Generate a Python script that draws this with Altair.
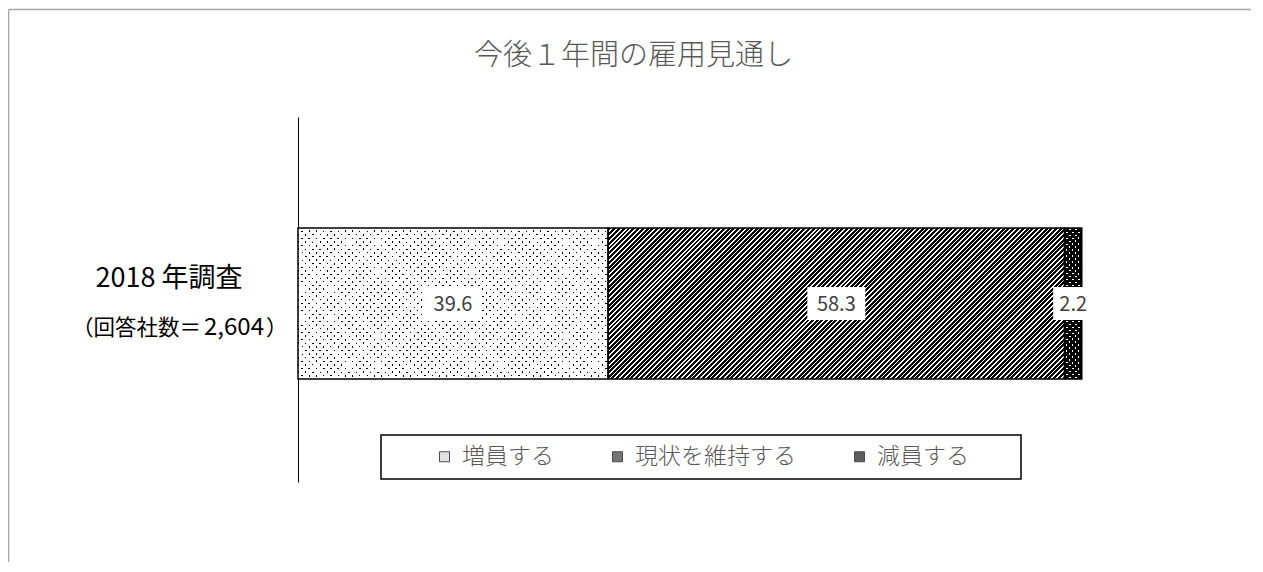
import altair as alt
import pandas as pd

# ---- data ----
categories = ['増員する', '現状を維持する', '減員する']
values = [39.6, 58.3, 2.2]
order = [1, 2, 3]
survey = ['2018', '2018', '2018']
survey_label = ['2018 年調査']
respondents = ['2,604']
title_text = '今後１年間の雇用見通し'

# ---- style ----
FONT = 'Noto Sans CJK JP'
W, H = 783, 365          # plot area
BAR = 151                # bar thickness (px)
PPU = W / 100.0          # px per percentage point
legend_colors = ['#d4d4d4', '#3c3c3c', '#1a1a1a']
CLEAR = 'rgba(255,255,255,0)'

df = pd.DataFrame({'survey': survey, 'category': categories,
                   'value': values, 'order': order})
lab_df = pd.DataFrame({'survey': survey[:1], 'name': survey_label, 'n': respondents})


def stripes(w, h, period, on_set, on, off, rising=True, k=0, n=1, N=255):
    """Diagonal stripe fill (part k of n along the diagonal) as a linear gradient."""
    def col(i):
        return on if (i % period) in on_set else off
    cur = col(0)
    stops = [(0.0, CLEAR), (0.0, cur)]
    for i in range(1, N + 1):
        c = col(i)
        if c != cur:
            b = round((i - 0.5) / N, 6)
            stops += [(b, cur), (b, c)]
            cur = c
    stops += [(1.0, cur), (1.0, CLEAR)]
    r = h / w
    s = (1 + r) / (1 + r * r)
    if rising:
        px, py, dx, dy = 0, 0, s, s * r
    else:
        px, py, dx, dy = 0, 1, s, -s * r
    f0, f1 = k / n, (k + 1) / n
    return alt.LinearGradient(
        gradient='linear',
        stops=[alt.GradientStop(color=cl, offset=o) for o, cl in stops],
        x1=px + f0 * dx, y1=py + f0 * dy, x2=px + f1 * dx, y2=py + f1 * dy)


w1, w2, w3 = (v * PPU for v in values)
# segment 1: black dots on white
g1b = stripes(w1, BAR, 4, {0}, 'black', CLEAR, rising=True)
g1c = stripes(w1, BAR, 4, {0}, CLEAR, 'white', rising=False)
# segment 2: wide upward diagonal hatch, built in 4 parts for finer stripes
g2 = [stripes(w2, BAR, 8, {2, 3, 4, 5, 6}, 'black', CLEAR, rising=True, k=k, n=4)
      for k in range(4)]
# segment 3: white dots on black
g3b = stripes(w3, BAR, 9, {0, 1, 2}, 'white', CLEAR, rising=True)
g3c = stripes(w3, BAR, 9, {0, 1, 2}, CLEAR, 'black', rising=False)

xscale = alt.Scale(domain=[0, 100], nice=False, zero=True)
yenc = alt.Y('survey:N', axis=alt.Axis(labels=False, ticks=False, title=None,
                                        domainColor='black', domainWidth=1,
                                        grid=False))

base = alt.Chart(df).transform_stack(
    stack='value', as_=['x0', 'x1'], groupby=['survey'],
    sort=[alt.SortField('order')])


def seg(cat, **mk):
    return base.transform_filter(alt.datum.category == cat).mark_bar(
        size=BAR, yOffset=4, **mk).encode(
        x=alt.X('x0:Q', scale=xscale, axis=None), x2='x1:Q', y=yenc)


one = alt.Chart(lab_df)
frame_top = one.mark_rule(color='#a6a6a6', strokeWidth=1.5).encode(
    x=alt.value(-289.5), x2=alt.value(1400), y=alt.value(-107.5))
frame_left = one.mark_rule(color='#a6a6a6', strokeWidth=1.5).encode(
    x=alt.value(-289.5), y=alt.value(-107.5), y2=alt.value(1000))

layers = [
    frame_top, frame_left,
    seg(categories[0], fill='white'),
    seg(categories[0], fill=g1b),
    seg(categories[0], fill=g1c),
    seg(categories[1], fill='white'),
    *[seg(categories[1], fill=g) for g in g2],
    seg(categories[2], fill='black'),
    seg(categories[2], fill=g3b),
    seg(categories[2], fill=g3c),
]

outline = base.mark_bar(size=BAR, yOffset=4, fill='transparent', stroke='black',
                        strokeWidth=1.5).encode(
    x=alt.X('x0:Q', scale=xscale, axis=None), x2='x1:Q', y=yenc)

boxes = base.transform_calculate(
    mid='(datum.x0 + datum.x1) / 2',
    lab=alt.expr.format(alt.datum.value, '.1f'),
).transform_calculate(
    hw=f'(4 + 18 * (length(datum.lab) - 1)) / 2 / {PPU}'
).transform_calculate(
    bx0='datum.mid - datum.hw', bx1='datum.mid + datum.hw'
).mark_bar(size=33, yOffset=4, fill='white').encode(
    x=alt.X('bx0:Q', scale=xscale, axis=None), x2='bx1:Q', y=yenc)

labels = base.transform_calculate(
    mid='(datum.x0 + datum.x1) / 2'
).mark_text(font=FONT, fontSize=20, color='#404040', baseline='middle',
            yOffset=5).encode(
    x=alt.X('mid:Q', scale=xscale, axis=None), y=yenc,
    text=alt.Text('value:Q', format='.1f'))

t1 = one.mark_text(font=FONT, fontSize=27, align='center', baseline='alphabetic',
                   yOffset=-12.5, color='black').encode(
    x=alt.value(-129), y=yenc, text='name:N')
t2a = one.mark_text(font=FONT, fontSize=21.5, align='right', baseline='alphabetic',
                    yOffset=35.5, color='black', text='（回答社数＝').encode(
    x=alt.value(-97), y=yenc)
t2b = one.mark_text(font=FONT, fontSize=24, align='left', baseline='alphabetic',
                    yOffset=35.5, color='black').encode(
    x=alt.value(-94), y=yenc, text='n:N')
t2c = one.mark_text(font=FONT, fontSize=21.5, align='left', baseline='alphabetic',
                    yOffset=35.5, color='black', text='）').encode(
    x=alt.value(-32), y=yenc)
title = one.mark_text(font=FONT, fontSize=29, fontWeight=300, color='#595959',
                      align='center', baseline='middle', text=title_text).encode(
    x=alt.value(335.5), y=alt.value(-61))

legend_layer = base.mark_square(size=100).encode(
    x=alt.value(-3000), y=alt.value(-3000),
    color=alt.Color('category:N', sort=categories,
                    scale=alt.Scale(domain=categories, range=legend_colors),
                    legend=alt.Legend(
                        orient='none', legendX=83, legendY=318,
                        direction='horizontal',
                        title='ああ', titleOrient='right', titleFont=FONT,
                        titleFontSize=20, titlePadding=2, titleColor='white',
                        labelFont=FONT, labelFontSize=23, labelFontWeight=300,
                        labelColor='#595959', labelLimit=400,
                        symbolOffset=42, labelOffset=6,
                        symbolType='square', symbolSize=100,
                        symbolStrokeColor='black', symbolStrokeWidth=1,
                        columnPadding=10)))

chart = alt.layer(*layers, outline, boxes, labels, t1, t2a, t2b, t2c, title,
                  legend_layer).properties(
    width=W, height=H,
    autosize=alt.AutoSizeParams(type='none'),
    padding={'left': 290, 'top': 109, 'right': 170, 'bottom': 80},
).configure_view(strokeWidth=0).configure_legend(
    strokeColor='black', strokeWidth=1.5, padding=10, fillColor='white')

chart.save("out.html", embed_options={"renderer": "svg", "actions": False})
